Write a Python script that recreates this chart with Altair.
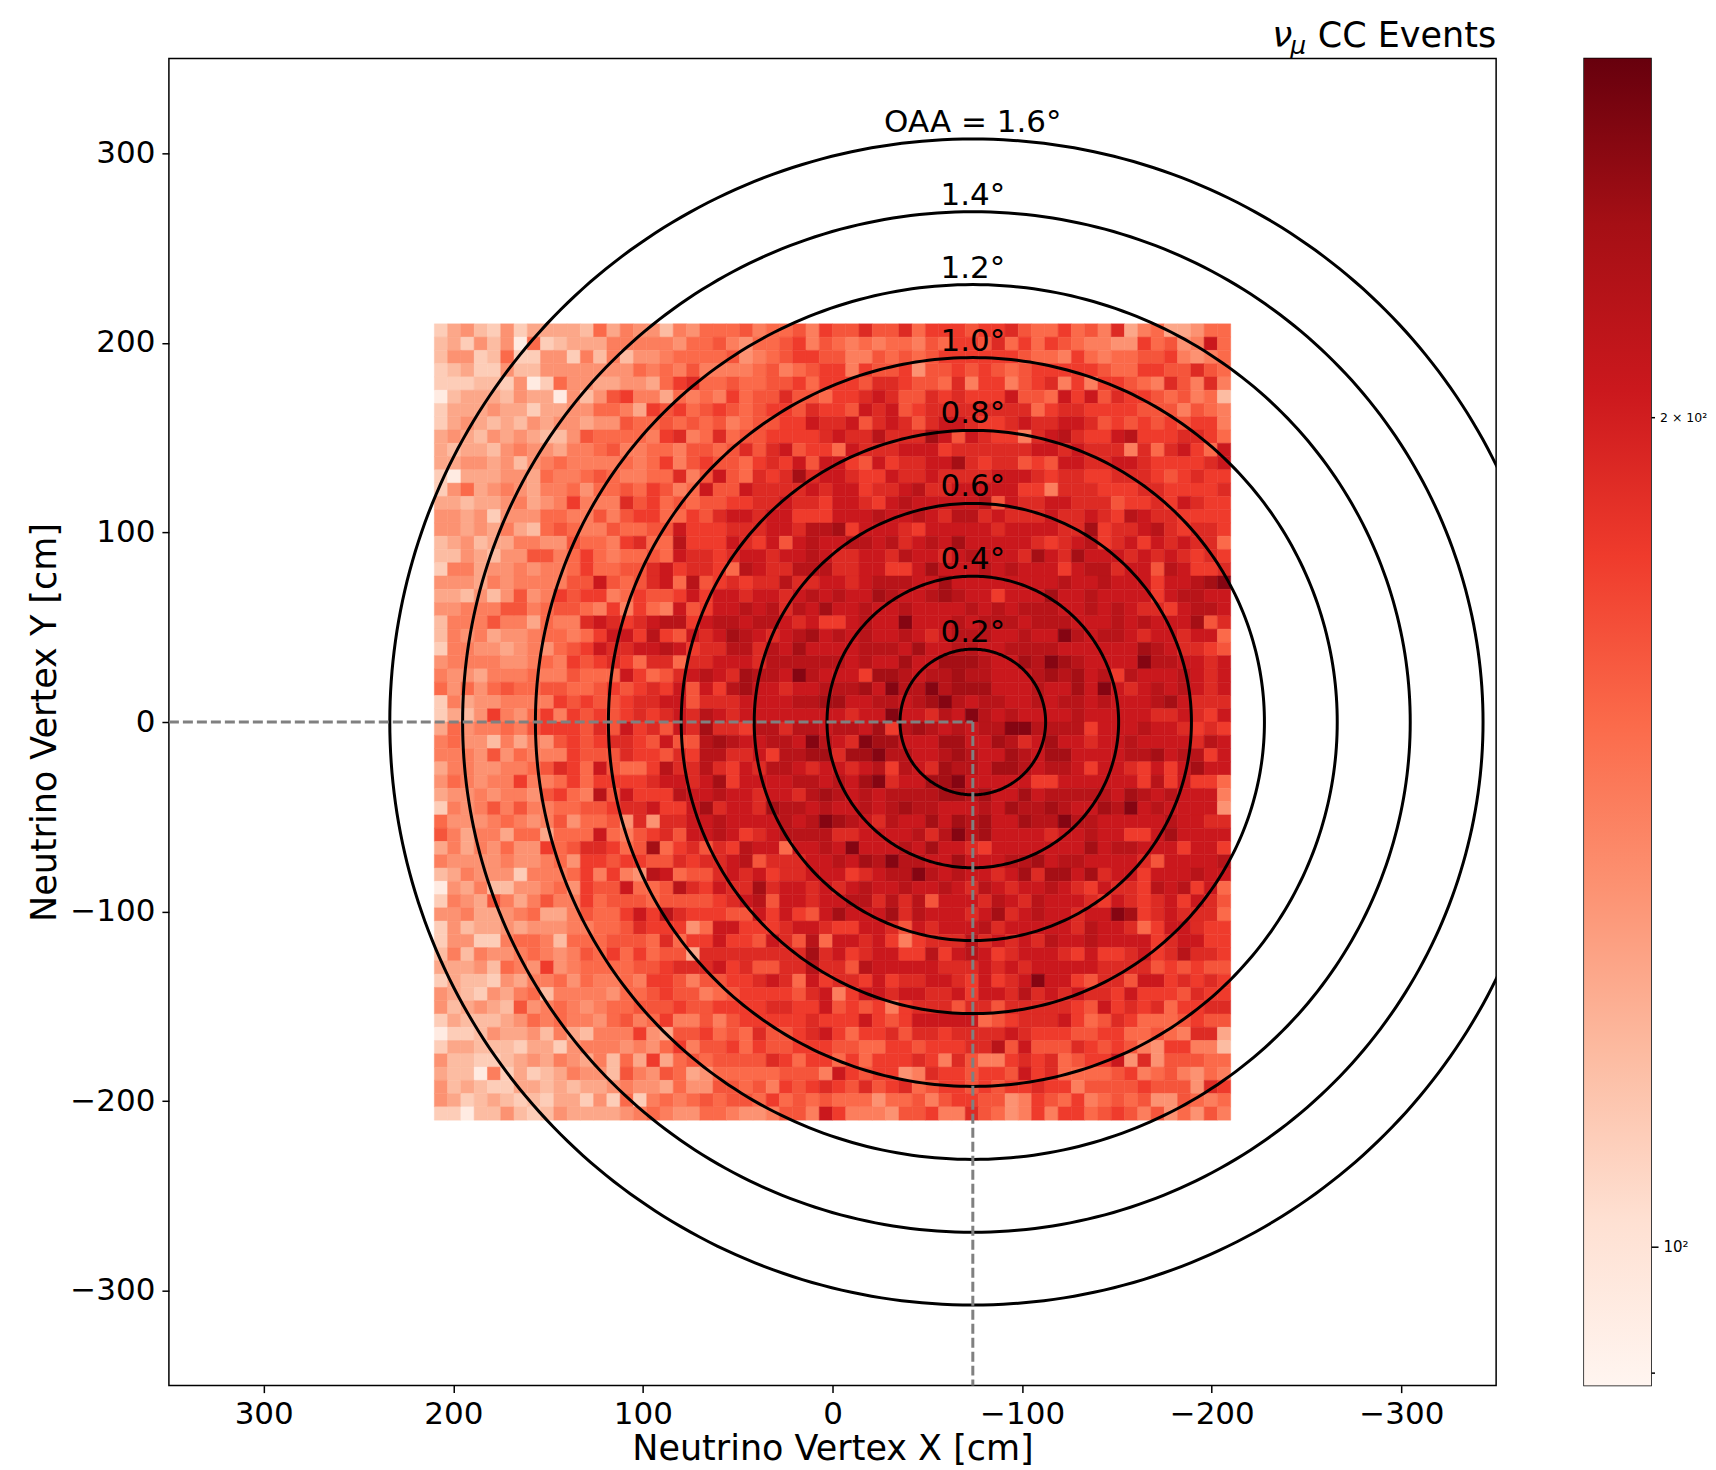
import altair as alt
import numpy as np
import pandas as pd

alt.data_transformers.disable_max_rows()

# Colour-level lookup: each hex digit below is one read-off event count
LEVEL_COUNTS = [95, 110, 117, 126, 135, 145, 155, 166, 178, 191, 205, 219, 235, 252]

# Cells, top row first, left column first (x = +210 ... 0)
LEFT_ROWS = [
"13421 41333 32635 44254 66675 66758","23142 40612 33355 55546 67546 67857","24412 61144 15252 44566 66745 67887",
"12311 42244 44444 65657 55556 75678","11122 14016 44334 43689 66766 77868","02333 24330 42478 55365 65867 79776",
"13334 33133 44665 38786 78767 88798","13432 32434 43447 66767 67567 788a9","34324 34322 47666 65895 69677 88889",
"32332 45443 55675 56657 76797 9a788","33443 42456 55556 56857 87768 98a7a","10333 44365 56765 56695 7a769 89c9a",
"14634 54355 64667 68756 a77a9 999a9","33233 45345 85559 78676 77889 9a998","44341 44466 55757 88668 79aa9 aa888",
"44343 53267 65576 677a8 88999 aa9bb","23423 35544 76658 966b8 88a98 a7aba","22432 44775 68656 676a9 989aa 9aaba",
"15534 45455 68667 79a89 986ba 99bbb","44435 45555 77a76 79a6b 78989 9b99a","33242 47458 78856 8778a 8aa9a a9aba",
"44555 77567 76585 865a7 8aaba b9bac","25557 55365 59a98 9abb8 abbab ba9a8","25453 44566 568aa 8b87a 9acba 9abca",
"15544 34546 78a99 aaba8 99bb9 bacaa","45555 44565 87898 69969 9aaa9 bbbbb","54435 55655 7666a 8679a ba9cb badba",
"64646 76677 66787 898a7 a8bca a9aab","15344 55558 78778 99aa7 999aa aabbc","13248 54685 87878 989a9 ba9aa aaaaa",
"36455 65788 8797a 897a9 c998b b9bba","56442 53547 87899 87a77 bcbaa bbadb","55547 46555 87779 88798 bb99a 8bbcc",
"35544 55679 86a76 68b99 b98a9 bba9a","46545 58556 86888 89aa9 ac8aa aabba","34454 55478 65b7a 888ba abaa9 aa9bc",
"15457 57556 67789 9a88a c9aa9 cbbab","64445 65457 46674 9499a abaaa ababd","75355 36636 66a65 7897a aba89 abbbb",
"35354 64486 79986 7c689 798ba a6aab","54444 54456 48878 87798 99ab7 999aa","23544 41555 68585 4ba67 79a9a 899aa",
"04352 24456 4877a 667b9 8a99c 9aa9a","15437 53575 58677 76777 789ab 7aa9a","44533 45633 57668 a8b98 8877a 8a87a",
"14233 43444 55667 98884 6aa88 89aa9","14411 56652 66677 76968 8a887 a97b6","25254 45654 57686 86773 99999 999c9",
"33342 65484 56666 77899 9a897 799b9","13221 43556 46556 58875 77889 a96a8","43214 35625 55546 67877 56788 8879a",
"42343 27456 54566 77787 78888 9988a","13222 34656 55467 56855 75788 88898","01124 33425 32555 84377 86769 7789a",
"13322 21331 45554 54685 77868 77888","42211 23435 43526 38367 67777 98688","32205 13123 54427 54763 46666 67775",
"42321 13323 23345 44364 47767 58789","43123 21213 31416 15656 76776 86767","11022 42124 33334 56544 66544 5775a",
]
# Same rows, right half (x = 0 ... -210)
RIGHT_ROWS = [
"77977 96888 78897 66867 59356 33466","65656 65768 87968 68765 54486 745a6","75576 76788 88887 66586 56677 85456",
"85877 84778 78767 88888 76688 77976","88799 87769 58857 89585 88765 97595","889a9 77989 888a7 76a8a 79887 67562",
"87a9a 78999 99999 68998 88877 75765","9a79a 979aa 9889a 99aa9 78787 87885","a99b9 99ca7 a9885 9ab98 8ab88 89986",
"6a999 aaa89 99999 aa9a9 99596 9a86a","a87a8 99aac 98997 87aa9 9aa98 8889a","a988a 99a99 99aaa 98998 89998 78988",
"aa899 ab99a aaaa8 85999 88899 88889","aa98a baaaa ab7a9 9aa99 97889 8a988","aaaba aba9b b9a99 9a99a 98ba9 98888",
"c8aaa 98aaa aa9aa aa99c 899ab 98998","abbab 9abac aaaaa 989ab 89a8a 9a996","99aa9 baa9a baaa9 ca9ca aa9a9 a9898",
"99aa8 8acaa ababa aa8ab b9aa7 ba889","a9abb baaca aaaaa aabaa baaa8 aabcd","baacb aabcb aa8aa acaab aaaa8 abbaa",
"aabaa baaaa babab bbaab aba99 8abba","8abaa daaab abbba bbbaa ababa aac79","babaa ba9ab bbaab aadba bba9a a9aa6",
"aabbb acaab baabb bbaaa aaacb a9987","babaa caacc cbaac bdcba aaadb baa9a","aa8cc babbc bbaaa bcbca b8baa aba9a",
"bbcad bbdbc ccaaa baaca da9ab aba9a","caabb abcdb abbaa babba baaab ca999","a9aad aa9ba dbaba aaaba aaaa9 9a98a",
"bbac8 bcbab abbdd bbbb8 aaaba a9898","a9dcc aaacc aacb9 acaa9 aabaa aa9ba","9ccdb baabc baacb accaa aabbc abb8a",
"a9ab8 ba9cb baccb abba8 aa98a 8acaa","bacd9 aaccd aaaaa 88aaa aaa8b 8a886","babab bbbcc bcaac abbbb bacba baaa5",
"aabab cbbaa abacb bcbaa cbdab aaaa4","cba9b aacac bcaac bbdbb aaaaa baa99","99aaa ab9bd bcaaa a9aab aa88a caaaa",
"adaaa bacaa 98aaa aaaac abbaa a8aa8","bacbd bbaac aaabb cabba aaa97 aaaab","a89ab bdbab aa9ac 9ccac 9aa8a aabaa",
"9abaa baaba 9ba9a aba98 a998b ab8a6","abb9b 9b7aa a9ba9 baaa9 8a989 a8a97","caaac 9baaa 9ac9a baa9a adc89 a9996",
"88aa9 7a9aa ab9aa aaa9b aa968 aa988","aa9a8 58999 b9a9a 9baab aaaa8 9aa88","a89aa 88b8a ba89a aa98a 889a8 9b998",
"97baa aaa99 9a9a9 aaaaa 99997 87877","998a8 99aa9 8a89a daa87 997aa 89898","58aa9 aa99a 8aa9b 9a9a9 98a88 87988",
"78785 89997 99799 99987 a8989 68899","88a87 8aaaa a6789 99a86 79866 67877","86889 79989 999a9 88877 88667 65993",
"77668 87888 99b7a 77798 78754 88552","68688 89859 75589 89678 8a494 77766","a8788 45988 7887a 89666 67856 75465",
"87978 96788 78788 98857 77787 77498","66646 67578 87745 87685 67674 47656","85554 77855 97645 85886 78757 46475",
]

BIN_EDGE_LEFT = 210
BIN_WIDTH = 7
RING_CENTER_X = -74
RING_RADII = [38.4, 76.9, 115.3, 153.8, 192.2, 230.7, 269.1, 307.5]
RING_LABELS = ["0.2°", "0.4°", "0.6°", "0.8°", "1.0°", "1.2°", "1.4°", "OAA = 1.6°"]
TICKS = [300, 200, 100, 0, -100, -200, -300]
CBAR_MIN, CBAR_MAX = 89, 270
CBAR_STOPS = [89, 102.3, 117.5, 135, 155, 178, 204.6, 235, 270]
REDS = ["#fff5f0", "#fee0d2", "#fcbba1", "#fc9272", "#fb6a4a", "#ef3b2c", "#cb181d", "#a50f15", "#67000d"]

FONT = "DejaVu Sans"
PLOT = 1328

cells = []
for r, (lft, rgt) in enumerate(zip(LEFT_ROWS, RIGHT_ROWS)):
    row = (lft + rgt).replace(" ", "")
    for c, ch in enumerate(row[:60]):
        cells.append({
            "x0": BIN_EDGE_LEFT - BIN_WIDTH * c, "x1": BIN_EDGE_LEFT - BIN_WIDTH * (c + 1),
            "y0": BIN_EDGE_LEFT - BIN_WIDTH * r, "y1": BIN_EDGE_LEFT - BIN_WIDTH * (r + 1),
            "events": LEVEL_COUNTS[int(ch, 16)],
        })
cells = pd.DataFrame(cells)

angles = np.radians(np.arange(0, 361, 1))
rings = pd.concat([
    pd.DataFrame({"ring": i, "i": np.arange(len(angles)),
                  "x": RING_CENTER_X + rad * np.cos(angles), "y": rad * np.sin(angles)})
    for i, rad in enumerate(RING_RADII)
])
ring_text = pd.DataFrame({"x": RING_CENTER_X, "y": RING_RADII, "t": RING_LABELS})

label_expr = "replace(format(datum.value,'d'),'-','−')"
xs = alt.Scale(domain=[350, -350], nice=False, zero=False)
ys = alt.Scale(domain=[-350, 350], nice=False, zero=False)
axis_common = dict(values=TICKS, grid=False, domain=False, labelExpr=label_expr, labelFont=FONT, labelFontSize=31,
                   labelColor="black", tickColor="black", tickWidth=1.5, tickSize=7, labelPadding=7,
                   titleFont=FONT, titleFontSize=35, titleFontWeight="normal", titleColor="black")
color_scale = alt.Scale(type="log", domain=CBAR_STOPS, range=REDS)

heat = alt.Chart(cells).mark_rect(strokeWidth=0.5).encode(
    x=alt.X("x0:Q", scale=xs, axis=alt.Axis(title="Neutrino Vertex X [cm]", titlePadding=2, **axis_common)),
    x2="x1:Q",
    y=alt.Y("y0:Q", scale=ys, axis=alt.Axis(title="Neutrino Vertex Y [cm]", titlePadding=7, **axis_common)),
    y2="y1:Q",
    color=alt.Color("events:Q", scale=color_scale, legend=None),
    stroke=alt.Color("events:Q", scale=color_scale, legend=None),
)
ring_lines = alt.Chart(rings).mark_line(color="black", strokeWidth=3, clip=True).encode(
    x=alt.X("x:Q", scale=xs), y=alt.Y("y:Q", scale=ys), detail="ring:N", order="i:Q")
guide_h = alt.Chart(pd.DataFrame({"x": [350], "x2": [RING_CENTER_X], "y": [0]})).mark_rule(
    color="#808080", strokeWidth=3, strokeDash=[10, 4]).encode(
    x=alt.X("x:Q", scale=xs), x2="x2:Q", y=alt.Y("y:Q", scale=ys))
guide_v = alt.Chart(pd.DataFrame({"x": [RING_CENTER_X], "y": [0], "y2": [-350]})).mark_rule(
    color="#808080", strokeWidth=3, strokeDash=[10, 4]).encode(
    x=alt.X("x:Q", scale=xs), y=alt.Y("y:Q", scale=ys), y2="y2:Q")
ring_labels = alt.Chart(ring_text).mark_text(font=FONT, fontSize=31, color="black", baseline="alphabetic",
                                             align="center", dy=-7).encode(
    x=alt.X("x:Q", scale=xs), y=alt.Y("y:Q", scale=ys), text="t:N")
nu = alt.Chart(pd.DataFrame({"t": ["ν"]})).mark_text(font=FONT, fontSize=36, fontStyle="italic", color="black",
                                                     baseline="alphabetic", align="left").encode(
    x=alt.value(1104), y=alt.value(-11), text="t:N")
mu = alt.Chart(pd.DataFrame({"t": ["μ"]})).mark_text(font=FONT, fontSize=25, fontStyle="italic", color="black",
                                                     baseline="alphabetic", align="left").encode(
    x=alt.value(1122), y=alt.value(-4), text="t:N")
cc_events = alt.Chart(pd.DataFrame({"t": ["CC Events"]})).mark_text(font=FONT, fontSize=35, color="black",
                                                                    baseline="alphabetic", align="right").encode(
    x=alt.value(PLOT), y=alt.value(-11), text="t:N")

main = alt.layer(heat, ring_lines, guide_h, guide_v, ring_labels, nu, mu, cc_events).properties(
    width=PLOT, height=PLOT,
)

bar = alt.Chart(pd.DataFrame({"lo": [CBAR_MIN], "hi": [CBAR_MAX]})).mark_rect(
    color=alt.Gradient(gradient="linear", x1=0, x2=0, y1=1, y2=0,
                       stops=[alt.GradientStop(color=c, offset=i / 8) for i, c in enumerate(REDS)])
).encode(
    x=alt.value(0), x2=alt.value(67),
    y=alt.Y("lo:Q", scale=alt.Scale(type="log", domain=[CBAR_MIN, CBAR_MAX], nice=False),
            axis=alt.Axis(orient="right", title=None, values=[90, 100, 200], grid=False, domain=False,
                          labelExpr="datum.value==100?'10²':datum.value==200?'2 × 10²':''",
                          labelFont=FONT, labelFontSize={"condition": {"test": "datum.value==100", "value": 15}, "value": 12.5},
                          labelColor="black", labelPadding=5,
                          tickColor="black", tickWidth=1.5,
                          tickSize=alt.expr("datum.value==100?7:3.5"))),
    y2="hi:Q",
).properties(width=67, height=PLOT)

chart = alt.hconcat(main, bar, spacing=86).properties(
    padding={"left": 19, "top": 9, "right": 0, "bottom": 0}, background="white"
).configure_view(stroke="black", strokeWidth=1.5)

chart.save("out.html", embed_options={"renderer": "svg", "actions": False})
